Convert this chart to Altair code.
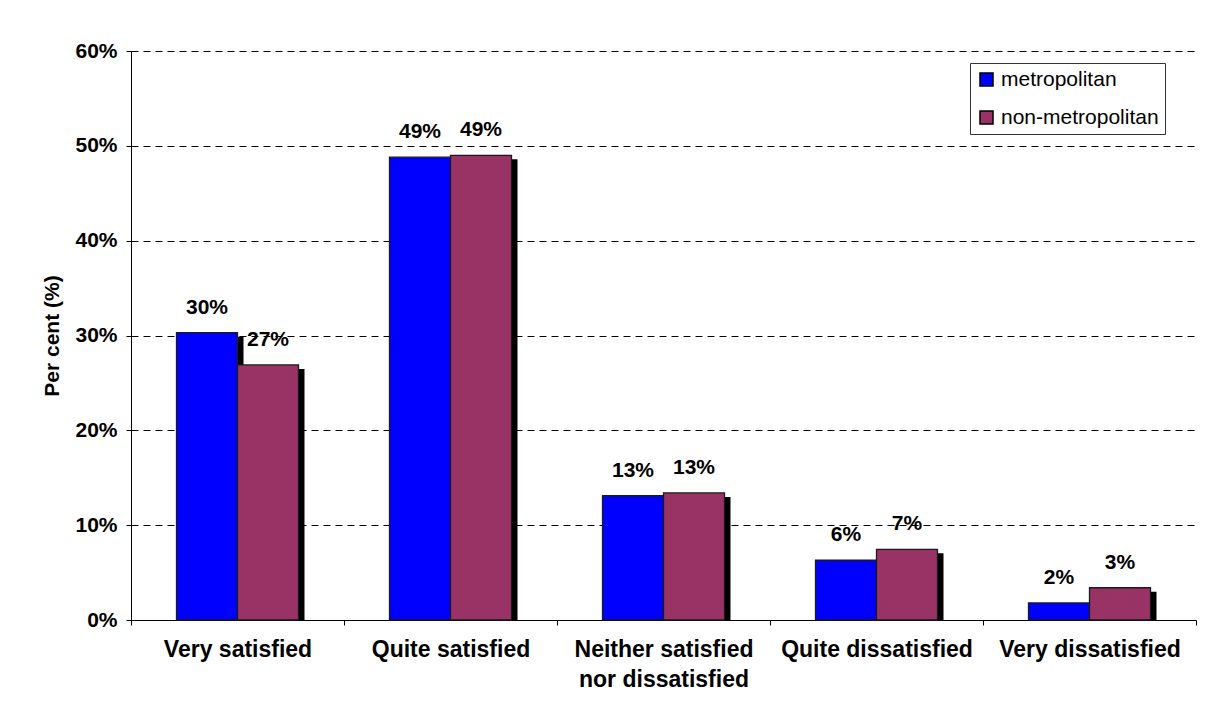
import altair as alt
import pandas as pd

categories = ["Very satisfied", "Quite satisfied", "Neither satisfied nor dissatisfied",
              "Quite dissatisfied", "Very dissatisfied"]
series = ["metropolitan", "non-metropolitan"]
metropolitan = [0.303, 0.488, 0.131, 0.063, 0.018]
non_metropolitan = [0.269, 0.490, 0.134, 0.0745, 0.034]
colors = ["#0000FF", "#993366"]
y_ticks = [0, 0.1, 0.2, 0.3, 0.4, 0.5, 0.6]

rows = []
for i, c in enumerate(categories):
    rows.append({"category": c, "series": series[0], "value": metropolitan[i]})
    rows.append({"category": c, "series": series[1], "value": non_metropolitan[i]})
df = pd.DataFrame(rows)

FONT = "Liberation Sans"
BAND = 1065 / 5

x_enc = alt.X("category:N", sort=categories,
              scale=alt.Scale(paddingInner=0, paddingOuter=0),
              axis=alt.Axis(title=None, labelAngle=0, tickBand="extent", labelLimit=0,
                            labelExpr="datum.label == 'Neither satisfied nor dissatisfied' ? ['Neither satisfied', 'nor dissatisfied'] : datum.label",
                            labelFont=FONT, labelFontSize=23, labelFontWeight="bold",
                            labelColor="black", labelLineHeight=30, labelPadding=13,
                            labelBaseline="top",
                            tickSize=5, tickColor="black", domainColor="black",
                            domainWidth=1, grid=False))
xo_enc = alt.XOffset("series:N", sort=series,
                     scale=alt.Scale(paddingOuter=0.746, paddingInner=0))
xo_shadow = alt.XOffset("series:N", sort=series,
                        scale=alt.Scale(paddingOuter=0.746, paddingInner=0,
                                        range=[6, BAND + 6]))
y_enc = alt.Y("value:Q",
              scale=alt.Scale(domain=[0, 0.6], nice=False),
              axis=alt.Axis(title="Per cent (%)", values=y_ticks, format=".0%",
                            labelFont=FONT, labelFontSize=21, labelFontWeight="bold",
                            labelColor="black", labelPadding=9,
                            titleFont=FONT, titleFontSize=21, titleFontWeight="bold",
                            titleColor="black", titlePadding=12,
                            tickSize=5, tickColor="black", domainColor="black",
                            grid=True, gridColor="black", gridDash=[7, 5],
                            gridWidth=1))

base = alt.Chart(df)

shadow = base.mark_bar(color="black", yOffset=4).encode(
    x=x_enc, xOffset=xo_shadow, y=y_enc, y2=alt.Y2(datum=0)
)

bars = base.mark_bar(stroke="#1a1a1a", strokeWidth=1.3).encode(
    x=x_enc, xOffset=xo_enc, y=y_enc,
    color=alt.Color("series:N", sort=series,
                    scale=alt.Scale(domain=series, range=colors),
                    legend=alt.Legend(title=None, orient="none", legendX=839, legendY=12,
                                      symbolType="square", symbolSize=170,
                                      symbolStrokeColor="black", symbolStrokeWidth=1.5,
                                      labelFont=FONT, labelFontSize=21, labelColor="black",
                                      labelOffset=4, rowPadding=16, padding=6,
                                      strokeColor="#333333", fillColor="white"))
)

labels = base.mark_text(font=FONT, fontSize=21, fontWeight="bold", color="black",
                        baseline="alphabetic", dy=-19).encode(
    x=x_enc, xOffset=xo_enc, y=y_enc,
    text=alt.Text("value:Q", format=".0%")
)

front = alt.layer(bars, labels)

chart = alt.layer(shadow, front).resolve_scale(xOffset="independent").properties(
    width=1065, height=569,
    autosize=alt.AutoSizeParams(type="none"),
    padding={"left": 123, "top": 43, "right": 2, "bottom": 84},
    background="white"
).configure_view(stroke=None)

chart.save("out.html", embed_options={"renderer": "svg", "actions": False})
